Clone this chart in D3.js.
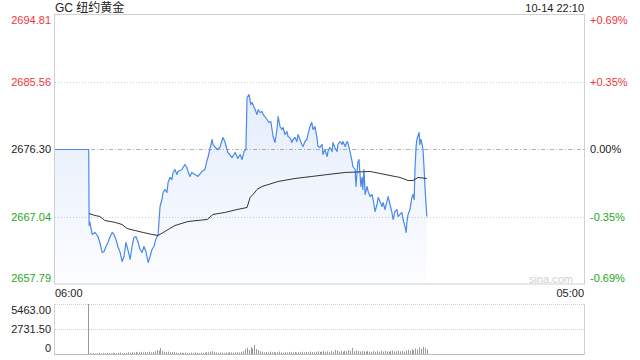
<!DOCTYPE html>
<html>
<head>
<meta charset="utf-8">
<script src="https://cdn.jsdelivr.net/npm/d3@7"></script>
<style>
  html, body { margin: 0; padding: 0; background: #fff; }
  svg { display: block; }
  text { font-family: "Liberation Sans", Arial, "Noto Sans CJK SC", sans-serif; }
</style>
</head>
<body>
<svg id="chart" width="640" height="360"></svg>
<script>
// ---- data (minutes after 06:00) ----
const title = "GC 纽约黄金";
const stamp = "10-14 22:10";
const prevClose = 2676.30;
const priceTicks = [2694.81, 2685.56, 2676.30, 2667.04, 2657.79];
const pctTicks = ["+0.69%", "+0.35%", "0.00%", "-0.35%", "-0.69%"];
const timeLabels = ["06:00", "05:00"];
const volTicks = ["5463.00", "2731.50", "0"];
const volMax = 5463;

const times = [0,88,89,91,97,104,112,117,123,128,133,138,143,149,154,159,164,170,175,180,185,190,196,201,206,211,217,222,227,232,237,243,248,253,258,263,269,274,279,282,287,292,295,300,305,308,313,318,321,331,339,344,347,352,357,365,373,383,391,397,399,410,412,423,430,438,443,451,462,470,477,483,488,493,498,501,506,511,514,522,527,530,535,540,543,553,558,563,569,574,579,582,587,592,595,600,605,608,613,618,621,626,631,634,639,644,647,652,657,665,670,673,678,683,686,691,697,699,704,710,712,717,723,725,730,736,738,743,749,751,757,762,764,770,775,777,783,785,788,790,793,798,801,803,806,809,814,817,822,827,830,835,840,843,848,853,856,861,866,869,874,879,882,887,892,895,900,905,908,913,916,918,921,926,931,934,937,939,942,944,950,952,955,960,963,965,970];
const prices = [2676.30,2676.30,2665.84,2666.26,2664.61,2664.88,2664.33,2663.50,2662.13,2662.27,2662.95,2663.50,2664.19,2664.88,2664.61,2663.92,2662.95,2662.13,2660.89,2661.58,2663.50,2662.54,2661.17,2662.95,2664.19,2664.33,2663.50,2662.54,2662.13,2662.95,2662.27,2660.75,2661.58,2662.54,2662.95,2663.92,2664.61,2668.46,2669.42,2670.38,2670.80,2670.38,2671.76,2672.45,2672.17,2673.14,2673.55,2672.86,2673.27,2673.55,2674.24,2673.82,2673.27,2672.59,2673.14,2672.86,2672.59,2673.27,2673.55,2674.92,2675.20,2677.68,2676.99,2676.30,2676.58,2677.95,2677.40,2675.89,2675.20,2675.89,2675.06,2675.61,2674.92,2676.02,2676.30,2683.46,2683.87,2682.49,2682.77,2681.80,2681.12,2681.80,2681.39,2681.53,2681.12,2680.43,2680.02,2680.15,2678.09,2677.26,2679.05,2680.84,2679.47,2679.05,2679.33,2678.36,2678.78,2678.09,2677.95,2677.26,2677.68,2677.95,2677.40,2678.36,2677.68,2676.99,2676.71,2677.40,2677.68,2679.47,2680.02,2679.05,2679.47,2678.09,2676.71,2676.58,2676.99,2675.61,2676.30,2675.34,2676.02,2676.58,2676.02,2677.26,2676.58,2676.02,2676.99,2677.40,2676.99,2677.40,2676.71,2677.40,2677.26,2675.89,2674.65,2673.96,2673.55,2671.21,2673.14,2674.51,2674.92,2671.21,2672.45,2670.80,2673.55,2670.11,2671.21,2670.52,2669.83,2670.11,2669.42,2667.77,2668.73,2669.70,2669.15,2668.46,2669.01,2668.04,2669.15,2669.83,2668.73,2667.63,2666.67,2667.77,2668.04,2667.08,2667.36,2667.63,2666.67,2665.71,2664.88,2666.26,2667.36,2668.04,2669.70,2670.11,2669.42,2673.55,2676.71,2677.68,2678.64,2676.99,2677.68,2676.30,2673.55,2671.21,2667.08];

const avgTimes = [89,104,117,130,157,175,188,209,230,253,269,287,295,313,347,397,412,443,475,501,509,519,527,540,582,626,670,712,757,822,848,874,900,921,934,947,970];
const avgPrices = [2667.49,2667.22,2667.08,2666.53,2666.26,2665.98,2665.43,2665.15,2664.88,2664.61,2664.47,2665.02,2665.29,2665.84,2666.39,2666.67,2667.36,2667.63,2668.04,2668.32,2669.70,2670.25,2670.80,2671.21,2671.90,2672.31,2672.59,2672.86,2673.14,2673.27,2673.00,2672.72,2672.45,2672.03,2672.03,2672.45,2672.31];

const volStart = 85, volStep = 5;
const volumes = [5463,
 80,60,110,70,90,130,60,100,80,120,
 90,70,140,100,80,110,160,90,120,100,
 180,140,210,160,240,150,200,230,170,220,
 190,260,170,230,300,450,380,650,320,240,
 210,260,180,230,200,150,120,170,140,110,
 160,130,100,150,120,180,140,110,170,130,
 150,200,170,240,320,210,160,130,180,150,
 120,170,140,190,160,130,180,210,170,240,
 300,520,680,450,760,600,980,540,420,300,
 250,180,220,160,270,190,230,150,200,260,
 180,140,210,170,240,190,160,220,130,180,
 200,250,170,230,190,280,210,160,240,300,
 220,260,330,240,290,200,310,250,440,380,
 270,320,230,350,280,420,360,650,300,390,
 340,260,310,280,240,330,270,220,300,250,
 290,230,350,260,310,280,240,320,380,270,
 300,350,290,330,260,380,450,340,520,410,
 600,480,700,560,800,650,500];

// ---- layout ----
const L = 55, R = 584, T = 15, B = 284;
const VT = 304, VB = 354;
const RED = "#f0353a", GREEN = "#22a822", DARK = "#222";

const svg = d3.select("#chart");
const x = d3.scaleLinear().domain([0, 1380]).range([L, R]);
const y = d3.scaleLinear().domain([priceTicks[4], priceTicks[0]]).range([B, T]);
const yv = d3.scaleLinear().domain([0, volMax]).range([VB, VT]);

const defs = svg.append("defs");
const grad = defs.append("linearGradient").attr("id", "fillg")
  .attr("gradientUnits", "userSpaceOnUse").attr("x1", 0).attr("x2", 0).attr("y1", T).attr("y2", B);
grad.append("stop").attr("offset", "0%").attr("stop-color", "#4a86e8").attr("stop-opacity", 0.2);
grad.append("stop").attr("offset", "100%").attr("stop-color", "#4a86e8").attr("stop-opacity", 0.02);

// grid
priceTicks.forEach((p, i) => {
  if (i === 0 || i === 4) return;
  const yy = Math.round(y(p)) + 0.5;
  svg.append("line").attr("x1", L).attr("x2", R).attr("y1", yy).attr("y2", yy)
    .attr("stroke", i === 2 ? "#b0b0b0" : "#cfcfcf")
    .attr("stroke-dasharray", i === 2 ? "4,2,1,2" : "1,2");
});

const pts = times.map((t, i) => [t, prices[i]]);
svg.append("path").datum(pts)
  .attr("d", d3.area().x(d => x(d[0])).y0(B).y1(d => y(d[1])))
  .attr("fill", "url(#fillg)");
svg.append("path").datum(pts)
  .attr("d", d3.line().x(d => x(d[0])).y(d => y(d[1])))
  .attr("fill", "none").attr("stroke", "#4a88ee").attr("stroke-width", 1.2).attr("stroke-linejoin", "round");

const avgPts = avgTimes.map((t, i) => [t, avgPrices[i]]);
svg.append("path").datum(avgPts)
  .attr("d", d3.line().x(d => x(d[0])).y(d => y(d[1])))
  .attr("fill", "none").attr("stroke", "#333").attr("stroke-width", 1);

// frame
svg.append("rect").attr("x", L - 0.5).attr("y", T - 0.5).attr("width", R - L + 1).attr("height", B - T + 0.5)
  .attr("fill", "none").attr("stroke", "#d0d0d0");

// left / right labels
priceTicks.forEach((p, i) => {
  const col = i < 2 ? RED : (i === 2 ? DARK : GREEN);
  let yy = y(p);
  if (i === 0) yy = 20;
  if (i === 4) yy = 278;
  svg.append("text").attr("x", 51).attr("y", yy).attr("dy", "0.35em")
    .attr("text-anchor", "end").attr("font-size", 11).attr("fill", col).text(p.toFixed(2));
  svg.append("text").attr("x", 590).attr("y", yy).attr("dy", "0.35em")
    .attr("text-anchor", "start").attr("font-size", 11).attr("fill", col).text(pctTicks[i]);
});

// title + stamp
svg.append("text").attr("x", L).attr("y", 12).attr("font-size", 12).attr("fill", "#222").text(title);
svg.append("text").attr("x", R).attr("y", 12).attr("font-size", 11).attr("text-anchor", "end").attr("fill", "#222").text(stamp);

// watermark
svg.append("text").attr("x", 573).attr("y", 279).attr("dy", "0.35em").attr("font-size", 11)
  .attr("text-anchor", "end").attr("fill", "#cfcfcf").text("sina.com");

// time labels
svg.append("text").attr("x", L).attr("y", 293).attr("dy", "0.35em").attr("font-size", 11).attr("fill", "#222").text(timeLabels[0]);
svg.append("text").attr("x", R).attr("y", 293).attr("dy", "0.35em").attr("font-size", 11).attr("text-anchor", "end").attr("fill", "#222").text(timeLabels[1]);

// volume panel
[VT, (VT + VB) / 2, VB].forEach(v => {
  svg.append("line").attr("x1", L).attr("x2", R).attr("y1", v + 0.5).attr("y2", v + 0.5)
    .attr("stroke", "#cfcfcf").attr("stroke-dasharray", "1,1");
});
svg.append("line").attr("x1", L - 0.5).attr("x2", L - 0.5).attr("y1", VT).attr("y2", VB + 1).attr("stroke", "#d0d0d0");
svg.append("line").attr("x1", R + 0.5).attr("x2", R + 0.5).attr("y1", VT).attr("y2", VB + 1).attr("stroke", "#d0d0d0");
svg.append("line").attr("x1", L).attr("x2", R).attr("y1", VB + 0.5).attr("y2", VB + 0.5).attr("stroke", "#bbb");

svg.append("g").selectAll("line").data(volumes).join("line")
  .attr("x1", (d, i) => Math.round(x(volStart + i * volStep)) + 0.5)
  .attr("x2", (d, i) => Math.round(x(volStart + i * volStep)) + 0.5)
  .attr("y1", VB).attr("y2", d => yv(d))
  .attr("stroke", "#999").attr("stroke-width", 1);

const volY = [310, 329.5, 348.5];
volTicks.forEach((t, i) => {
  svg.append("text").attr("x", 51).attr("y", volY[i]).attr("dy", "0.35em")
    .attr("text-anchor", "end").attr("font-size", 11).attr("fill", "#222").text(t);
});
</script>
</body>
</html>
